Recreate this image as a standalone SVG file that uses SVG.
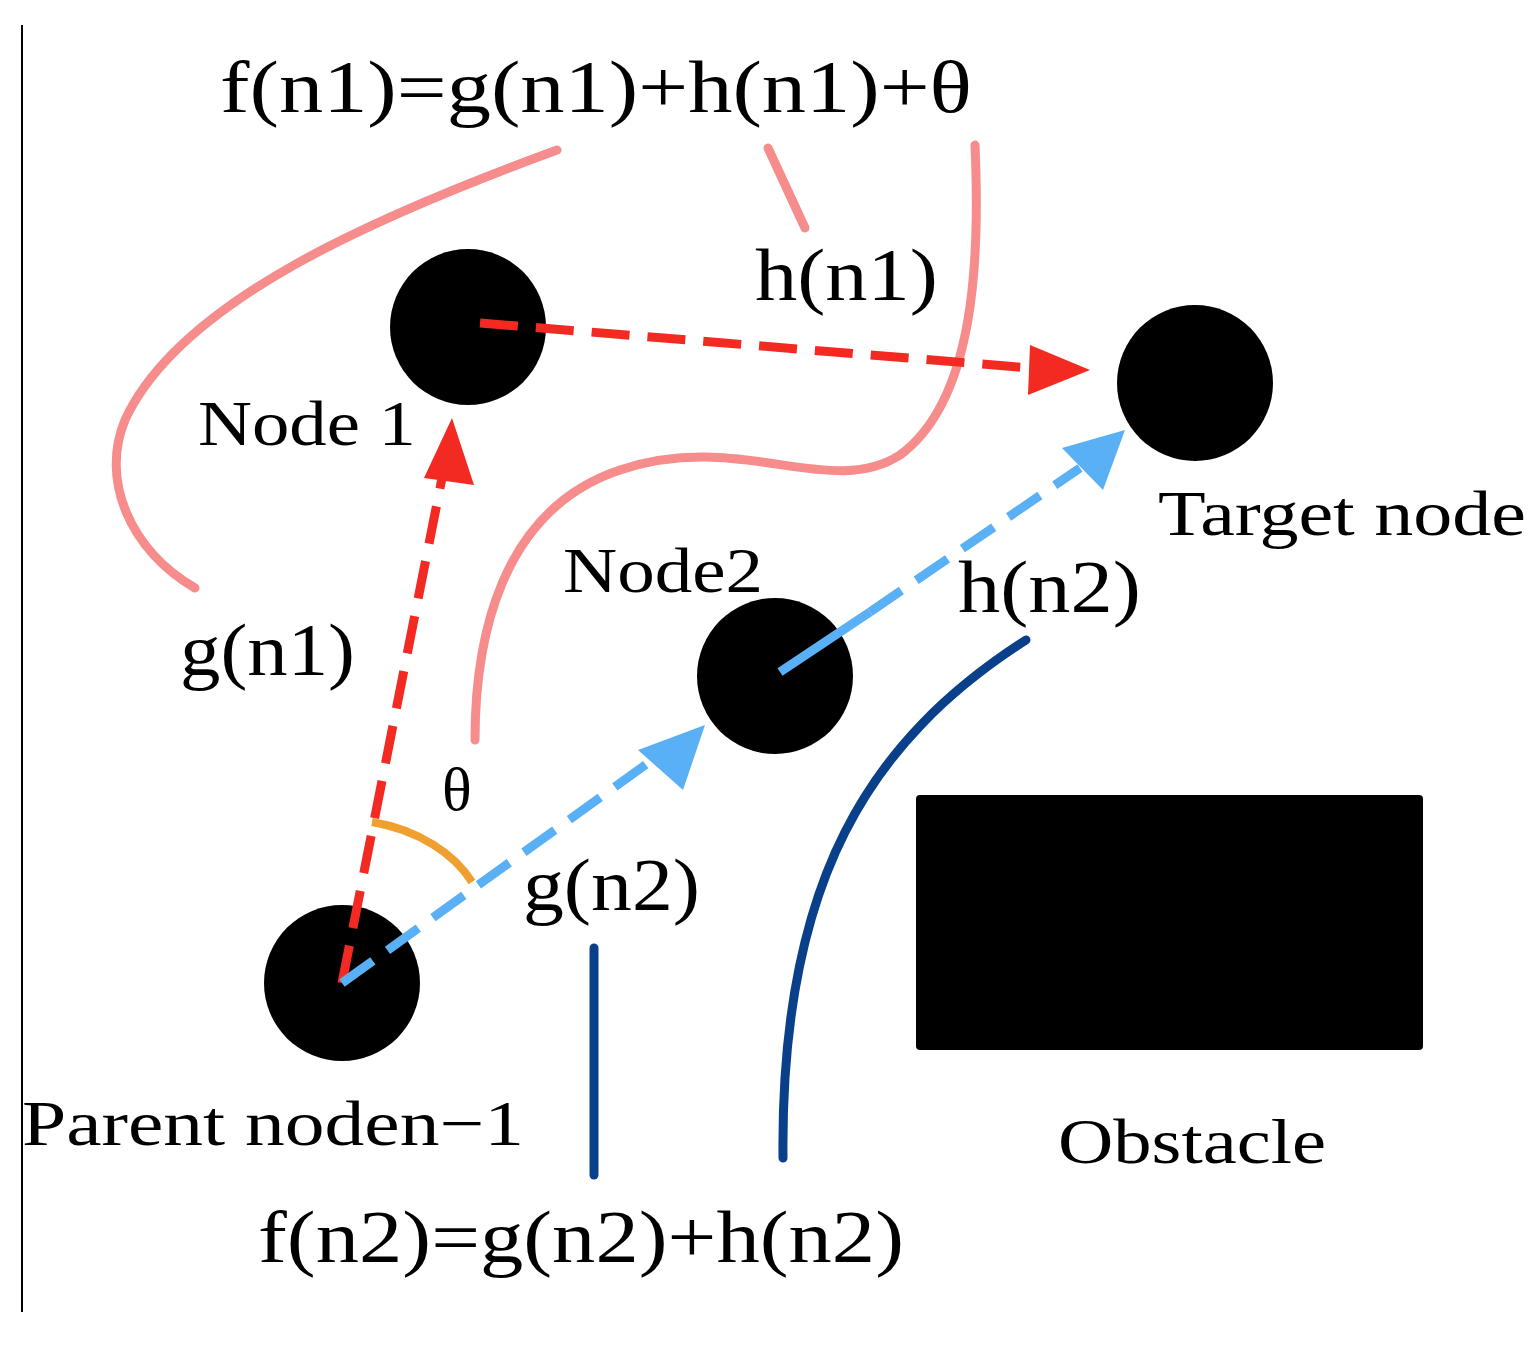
<svg xmlns="http://www.w3.org/2000/svg" width="1538" height="1348" viewBox="0 0 1538 1348">
<style>
.t{font-family:"Liberation Serif",serif;fill:#000}
.pk{fill:none;stroke:#f78c8c;stroke-width:9;stroke-linecap:round}
.db{fill:none;stroke:#0a3f8a;stroke-width:9;stroke-linecap:round}
.rd{stroke:#f22a22;stroke-width:9;stroke-dasharray:38 18;fill:none}
.bl{stroke:#5ab0f5;stroke-width:9;stroke-dasharray:38 18;fill:none}
</style>
<rect width="1538" height="1348" fill="#fff"/>
<line x1="22" y1="25" x2="22" y2="1312" stroke="#000" stroke-width="2"/>
<g id="curves">
<path class="pk" d="M557 150 C380 215 180 300 125 420 C100 480 130 550 195 588"/>
<path class="pk" d="M768 148 L805 228"/>
<path class="pk" d="M975 145 C980 260 975 400 900 455 C830 500 740 430 620 470 C500 510 475 640 475 740"/>
<path class="db" d="M594 948 L594 1175"/>
<path class="db" d="M1026 640 C870 740 780 880 783 1158"/>
<path d="M372 822 C420 830 455 855 472 882" fill="none" stroke="#f0a030" stroke-width="8"/>
</g>
<g id="node1"><circle cx="468" cy="327" r="78"/><text class="t" x="198" y="445" font-size="64" textLength="218" lengthAdjust="spacingAndGlyphs">Node 1</text></g>
<g id="target"><circle cx="1195" cy="383" r="78"/><text class="t" x="1158" y="535" font-size="64" textLength="368" lengthAdjust="spacingAndGlyphs">Target node</text></g>
<g id="node2"><circle cx="775" cy="676" r="78"/><text class="t" x="563" y="592" font-size="64" textLength="200" lengthAdjust="spacingAndGlyphs">Node2</text></g>
<g id="parent"><circle cx="342" cy="983" r="78"/><text class="t" x="22" y="1145" font-size="64" textLength="502" lengthAdjust="spacingAndGlyphs">Parent noden−1</text></g>
<g id="obstacle"><rect x="916" y="795" width="507" height="255" rx="4"/><text class="t" x="1058" y="1163" font-size="64" textLength="268" lengthAdjust="spacingAndGlyphs">Obstacle</text></g>
<g id="connectors">
<line class="rd" x1="480" y1="323" x2="1030" y2="368"/>
<polygon points="1090,370 1030,345 1028,395" fill="#f22a22"/>
<line class="rd" x1="342" y1="983" x2="442" y2="478"/>
<polygon points="452,418 474,485 424,478" fill="#f22a22"/>
<line class="bl" x1="342" y1="983" x2="655" y2="758"/>
<polygon points="705,725 683,790 638,750" fill="#5ab0f5"/>
<line stroke="#5ab0f5" stroke-width="9" x1="780" y1="672" x2="870" y2="612"/>
<line class="bl" x1="870" y1="612" x2="1080" y2="468"/>
<polygon points="1125,430 1103,490 1062,448" fill="#5ab0f5"/>
</g>
<g id="labels">
<text class="t" x="220" y="112" font-size="74" textLength="752" lengthAdjust="spacingAndGlyphs">f(n1)=g(n1)+h(n1)+θ</text>
<text class="t" x="755" y="300" font-size="74" textLength="183" lengthAdjust="spacingAndGlyphs">h(n1)</text>
<text class="t" x="180" y="675" font-size="74" textLength="175" lengthAdjust="spacingAndGlyphs">g(n1)</text>
<text class="t" x="958" y="612" font-size="74" textLength="183" lengthAdjust="spacingAndGlyphs">h(n2)</text>
<text class="t" x="442" y="810" font-size="62">θ</text>
<text class="t" x="523" y="910" font-size="74" textLength="177" lengthAdjust="spacingAndGlyphs">g(n2)</text>
<text class="t" x="258" y="1262" font-size="74" textLength="646" lengthAdjust="spacingAndGlyphs">f(n2)=g(n2)+h(n2)</text>
</g>
</svg>
